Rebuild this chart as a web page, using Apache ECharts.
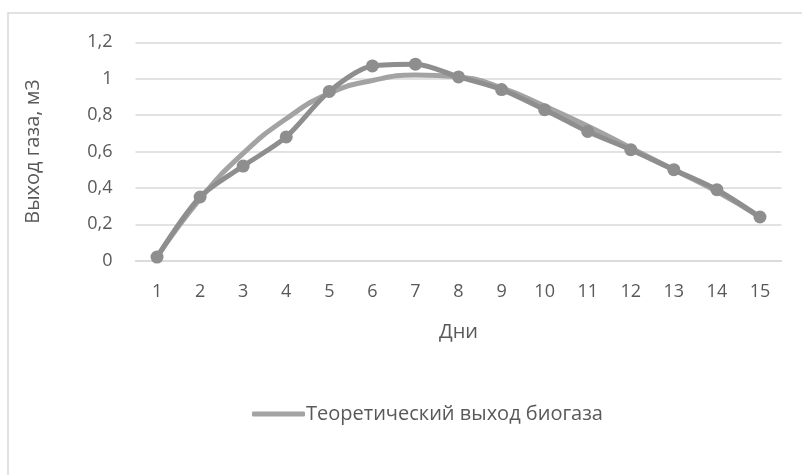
<!DOCTYPE html>
<html>
<head>
<meta charset="utf-8">
<script src="https://cdn.jsdelivr.net/npm/echarts@6/dist/echarts.min.js"></script>
<style>html,body{margin:0;padding:0;background:#fff;}#c{width:802px;height:475px;}</style>
</head>
<body>
<div id="c"></div>
<script>
const days = ['1','2','3','4','5','6','7','8','9','10','11','12','13','14','15'];
const experimental = [0.02, 0.35, 0.52, 0.68, 0.93, 1.07, 1.08, 1.01, 0.94, 0.83, 0.71, 0.61, 0.50, 0.39, 0.24];
const theoretical = [0.02, 0.34, 0.59, 0.78, 0.92, 0.99, 1.02, 1.01, 0.95, 0.85, 0.74, 0.62, 0.50, 0.38, 0.24];
const yTicks = {min: 0, max: 1.2, interval: 0.2};
const xName = 'Дни';
const yName = 'Выход газа, м3';
const legendName = 'Теоретический выход биогаза';

const font = "'Liberation Sans Narrow', 'Open Sans', sans-serif";
const chart = echarts.init(document.getElementById('c'), null, {renderer: 'canvas'});
chart.setOption({
  animation: false,
  backgroundColor: '#fff',
  graphic: [{
    type: 'rect', silent: true, z: -10,
    shape: {x: 8, y: 13, width: 820, height: 520},
    style: {fill: 'none', stroke: '#d9d9d9', lineWidth: 1.5}
  }],
  grid: {left: 135.5, right: 20.5, top: 42.3, bottom: 214.3, containLabel: false},
  legend: {
    data: [{name: legendName, icon: 'roundRect'}],
    left: 247, top: 399,
    itemWidth: 53, itemHeight: 5, itemGap: 10,
    textStyle: {color: '#595959', fontSize: 20, fontFamily: font, padding: [0,0,0,-4]}
  },
  xAxis: {
    type: 'category', data: days, boundaryGap: true,
    name: xName, nameLocation: 'middle', nameGap: 62,
    nameTextStyle: {color: '#595959', fontSize: 20, fontFamily: font},
    axisLine: {show: true, lineStyle: {color: '#d9d9d9', width: 1.5}},
    axisTick: {show: false},
    axisLabel: {color: '#595959', fontSize: 18, fontFamily: font, margin: 22}
  },
  yAxis: {
    type: 'value', min: yTicks.min, max: yTicks.max, interval: yTicks.interval,
    name: yName, nameLocation: 'middle', nameGap: 92, nameRotate: 90,
    nameTextStyle: {color: '#595959', fontSize: 20, fontFamily: font},
    axisLine: {show: false}, axisTick: {show: false},
    splitLine: {lineStyle: {color: '#d9d9d9', width: 1.5}},
    axisLabel: {color: '#595959', fontSize: 18, fontFamily: font, margin: 23,
      formatter: v => (Math.round(v*10)/10).toString().replace('.', ',')}
  },
  series: [
    {
      name: legendName, type: 'line', data: theoretical, smooth: 0.5,
      showSymbol: false, symbol: 'none',
      lineStyle: {color: '#a3a3a3', width: 5}, itemStyle: {color: '#a3a3a3'}, z: 2
    },
    {
      name: 'Экспериментальный выход биогаза', type: 'line', data: experimental, smooth: 0.3,
      symbol: 'circle', symbolSize: 13,
      lineStyle: {color: '#8e8e8e', width: 5}, itemStyle: {color: '#8e8e8e'}, z: 3
    }
  ]
});
</script>
</body>
</html>
